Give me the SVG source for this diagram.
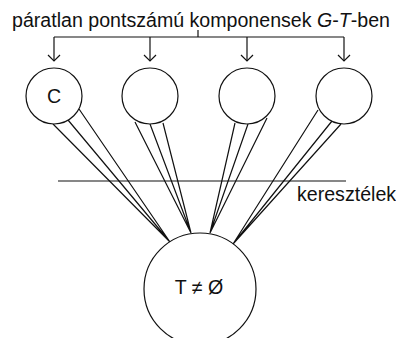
<svg xmlns="http://www.w3.org/2000/svg" width="396" height="338" viewBox="0 0 396 338">
<style>
.s{fill:none;stroke:#111;stroke-width:1.2}
.c{fill:#fff;stroke:#111;stroke-width:1.2}
text{font-family:"Liberation Sans",Arial,sans-serif;font-size:19.6px;fill:#111}
</style>
<defs>
<marker id="a" markerWidth="14" markerHeight="14" refX="7" refY="7" orient="auto" markerUnits="userSpaceOnUse">
<path d="M1,1 L7,7 L1,13" fill="none" stroke="#111" stroke-width="1.2"/>
</marker>
</defs>
<rect width="396" height="338" fill="#fff"/>
<text id="title" x="12" y="27">páratlan pontszámú komponensek <tspan font-style="italic">G</tspan>-<tspan font-style="italic">T</tspan>-ben</text>
<g id="connectors">
<path class="s" d="M198,30 V37 M54,37 H344"/>
<line class="s" x1="54" y1="37" x2="54" y2="61" marker-end="url(#a)"/>
<line class="s" x1="150" y1="37" x2="150" y2="61" marker-end="url(#a)"/>
<line class="s" x1="247" y1="37" x2="247" y2="61" marker-end="url(#a)"/>
<line class="s" x1="344" y1="37" x2="344" y2="61" marker-end="url(#a)"/>
<path class="s" d="M53,124 L170,242 M68,120 L170,242 M79,109 L170,242"/>
<path class="s" d="M135,122 L191,233 M150,124 L191,233 M163,123 L191,233"/>
<path class="s" d="M235,123 L210,233 M248,124 L210,233 M267,118 L210,233"/>
<path class="s" d="M318,110 L233,244 M332,121 L233,244 M341,124 L233,244"/>
<line class="s" x1="58" y1="181" x2="346" y2="181"/>
</g>
<text id="cross" x="297" y="201">keresztélek</text>
<g id="c1"><circle class="c" cx="54" cy="96" r="28"/><text x="54" y="103" text-anchor="middle">C</text></g>
<g id="c2"><circle class="c" cx="150" cy="96" r="28"/></g>
<g id="c3"><circle class="c" cx="247" cy="96" r="28"/></g>
<g id="c4"><circle class="c" cx="344" cy="96" r="28"/></g>
<g id="T"><circle class="c" cx="200" cy="289" r="56"/><text x="199" y="294" text-anchor="middle">T ≠ Ø</text></g>
</svg>
